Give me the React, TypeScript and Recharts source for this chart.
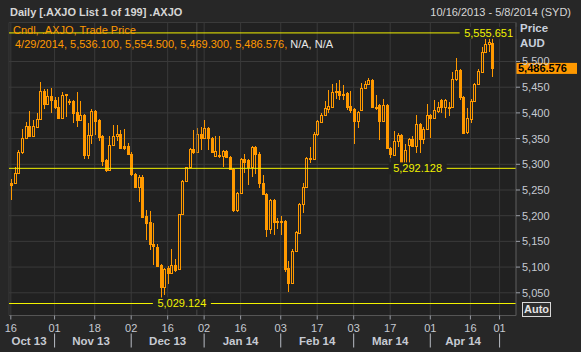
import React from 'react';
import { BarChart, Bar, XAxis, YAxis, CartesianGrid, ReferenceLine } from 'recharts';

// trading days shown on the axis (Oct 2013 - May 2014)
const dates = [
  '10/16', '10/17', '10/18', '10/21', '10/22', '10/23', '10/24', '10/25', '10/28', '10/29', '10/30', '10/31',
  '11/01', '11/04', '11/05', '11/06', '11/07', '11/08', '11/11', '11/12', '11/13', '11/14', '11/15', '11/18',
  '11/19', '11/20', '11/21', '11/22', '11/25', '11/26', '11/27', '11/28', '11/29',
  '12/02', '12/03', '12/04', '12/05', '12/06', '12/09', '12/10', '12/11', '12/12', '12/13', '12/16', '12/17',
  '12/18', '12/19', '12/20', '12/23', '12/24', '12/27', '12/30', '12/31',
  '01/02', '01/03', '01/06', '01/07', '01/08', '01/09', '01/10', '01/13', '01/14', '01/15', '01/16', '01/17',
  '01/20', '01/21', '01/22', '01/23', '01/24', '01/28', '01/29', '01/30', '01/31',
  '02/03', '02/04', '02/05', '02/06', '02/07', '02/10', '02/11', '02/12', '02/13', '02/14', '02/17', '02/18',
  '02/19', '02/20', '02/21', '02/24', '02/25', '02/26', '02/27', '02/28',
  '03/03', '03/04', '03/05', '03/06', '03/07', '03/10', '03/11', '03/12', '03/13', '03/14', '03/17', '03/18',
  '03/19', '03/20', '03/21', '03/24', '03/25', '03/26', '03/27', '03/28', '03/31',
  '04/01', '04/02', '04/03', '04/04', '04/07', '04/08', '04/09', '04/10', '04/11', '04/14', '04/15', '04/16',
  '04/17', '04/22', '04/23', '04/24', '04/28', '04/29', '04/30',
  '05/01', '05/02', '05/05', '05/06', '05/07',
];

const opens = [
  5264, 5263, 5284, 5323, 5352, 5374, 5355, 5373, 5388, 5443,
  5417, 5433, 5426, 5412, 5391, 5436, 5422, 5423, 5402, 5386,
  5396, 5318, 5357, 5404, 5386, 5355, 5308, 5288, 5337, 5355,
  5359, 5335, 5336, 5321, 5281, 5256, 5276, 5200, 5187, 5144,
  5140, 5104, 5062, 5098, 5089, 5104, 5096, 5203, 5267, 5294,
  5330, 5324, 5359, 5351, 5370, 5351, 5316, 5319, 5316, 5326,
  5314, 5291, 5211, 5245, 5310, 5308, 5295, 5333, 5321, 5263,
  5242, 5174, 5230, 5188, 5190, 5190, 5098, 5070, 5131, 5167,
  5223, 5255, 5311, 5310, 5358, 5383, 5396, 5408, 5412, 5441,
  5443, 5436, 5439, 5413, 5407, 5384, 5406, 5448, 5456, 5464,
  5412, 5415, 5385, 5415, 5332, 5318, 5345, 5357, 5295, 5337,
  5349, 5336, 5378, 5349, 5369, 5396, 5391, 5404, 5425, 5412,
  5412, 5412, 5465, 5484, 5430, 5362, 5388, 5424, 5456, 5480,
  5519, 5534, 5536.1,
];
const highs = [
  5271, 5294, 5328, 5369, 5382, 5403, 5386, 5399, 5460, 5446,
  5446, 5448, 5430, 5431, 5440, 5437, 5428, 5425, 5440, 5423,
  5398, 5380, 5408, 5406, 5388, 5357, 5310, 5355, 5377, 5376,
  5366, 5368, 5342, 5323, 5283, 5280, 5280, 5211, 5209, 5185,
  5144, 5106, 5098, 5102, 5135, 5115, 5204, 5270, 5295, 5331,
  5367, 5370, 5372, 5386, 5372, 5353, 5355, 5355, 5328, 5328,
  5316, 5293, 5247, 5312, 5321, 5310, 5335, 5335, 5323, 5279,
  5244, 5232, 5232, 5195, 5200, 5192, 5112, 5135, 5171, 5224,
  5264, 5314, 5334, 5362, 5386, 5399, 5423, 5445, 5456, 5458,
  5464, 5454, 5441, 5443, 5409, 5404, 5458, 5462, 5468, 5466,
  5434, 5417, 5427, 5417, 5334, 5365, 5361, 5359, 5340, 5352,
  5355, 5396, 5380, 5373, 5417, 5398, 5425, 5422, 5427, 5427,
  5422, 5480, 5506, 5486, 5432, 5409, 5427, 5458, 5485, 5528,
  5543, 5555.651, 5554.5,
];
const lows = [
  5230, 5261, 5282, 5321, 5350, 5353, 5353, 5371, 5386, 5408,
  5415, 5399, 5408, 5389, 5389, 5393, 5415, 5381, 5373, 5384,
  5310, 5310, 5340, 5357, 5346, 5297, 5285, 5286, 5335, 5346,
  5330, 5328, 5318, 5278, 5255, 5227, 5196, 5153, 5133, 5104,
  5102, 5036, 5046, 5068, 5086, 5091, 5094, 5201, 5265, 5292,
  5321, 5322, 5328, 5349, 5328, 5322, 5314, 5312, 5294, 5312,
  5288, 5208, 5208, 5243, 5284, 5260, 5276, 5281, 5253, 5240,
  5159, 5164, 5162, 5174, 5162, 5091, 5052, 5068, 5129, 5165,
  5205, 5253, 5303, 5308, 5355, 5381, 5394, 5399, 5410, 5428,
  5426, 5426, 5406, 5399, 5340, 5370, 5404, 5446, 5454, 5410,
  5406, 5347, 5383, 5329, 5312, 5316, 5334, 5292, 5290, 5303,
  5333, 5322, 5322, 5340, 5367, 5352, 5389, 5400, 5399, 5391,
  5394, 5410, 5463, 5425, 5359, 5358, 5380, 5422, 5454, 5478,
  5517, 5519, 5469.3,
];
const closes = [
  5260, 5284, 5323, 5352, 5374, 5355, 5374, 5388, 5443, 5417,
  5433, 5426, 5412, 5391, 5434, 5434, 5423, 5400, 5386, 5396,
  5318, 5357, 5404, 5385, 5354, 5306, 5288, 5338, 5355, 5359,
  5332, 5332, 5321, 5281, 5256, 5276, 5198, 5186, 5144, 5142,
  5103, 5062, 5097, 5089, 5104, 5094, 5203, 5267, 5294, 5330,
  5324, 5359, 5351, 5370, 5351, 5324, 5326, 5318, 5326, 5314,
  5291, 5211, 5245, 5310, 5305, 5295, 5333, 5320, 5263, 5242,
  5174, 5230, 5188, 5190, 5188, 5096, 5070, 5131, 5169, 5223,
  5255, 5312, 5313, 5358, 5384, 5395, 5409, 5413, 5440, 5443,
  5435, 5435, 5412, 5406, 5385, 5402, 5448, 5456, 5464, 5412,
  5410, 5385, 5415, 5331, 5320, 5345, 5357, 5294, 5328, 5349,
  5336, 5378, 5349, 5369, 5395, 5390, 5406, 5411, 5412, 5425,
  5410, 5465, 5484, 5430, 5360, 5390, 5424, 5456, 5482, 5519,
  5534, 5537, 5486.576,
];

const yTicks = [5050, 5100, 5150, 5200, 5250, 5300, 5350, 5400, 5450, 5500];
const dayTicks = ['10/16', '11/01', '11/18', '12/02', '12/16', '01/02', '01/16', '02/03', '02/17', '03/03', '03/17', '04/01', '04/16', '05/01'];
const monthStarts = ['11/01', '12/02', '01/02', '02/03', '03/03', '04/01', '05/01'];
const monthTicks = ['10/23', '11/15', '12/16', '01/16', '02/17', '03/17', '04/14'];
const monthNames = ['Oct 13', 'Nov 13', 'Dec 13', 'Jan 14', 'Feb 14', 'Mar 14', 'Apr 14'];

// horizontal study lines: high, average, low
const highLine = 5555.651;
const midLine = 5292.128;
const lowLine = 5029.124;

const ORANGE = '#ff9900';
const YELLOW = '#f2f200';
const PLOT_BG = '#212121';
const OUTER_BG = '#272727';
const GRID = '#3a3a3a';
const AXIS_TEXT = '#c6cad2';
const FONT = '"Liberation Sans", Arial, sans-serif';

const data = dates.map((d, i) => ({
  date: d,
  o: opens[i],
  h: highs[i],
  l: lows[i],
  c: closes[i],
  range: i < opens.length ? [lows[i], highs[i]] : null,
}));

const fmt = (v: number) => v.toLocaleString('en-US', { minimumFractionDigits: 3, maximumFractionDigits: 3 });

const Candle = (props: any) => {
  const { x, y, width, height, payload } = props;
  if (!payload || payload.o == null) return null;
  const { o, h, l, c } = payload;
  const top = Math.min(y, y + height);
  const span = Math.abs(height);
  const k = span / (h - l || 1);
  const cx = Math.round(x + width / 2);
  const yHi = Math.round(top);
  const yLo = Math.round(top + span);
  const bTop = Math.round(top + (h - Math.max(o, c)) * k);
  const bBot = Math.max(Math.round(top + (h - Math.min(o, c)) * k), bTop + 1);
  if (c >= o) {
    // hollow body: outline only, wick stops at the body
    const d = `M${cx + 0.5},${yHi}V${bTop}M${cx + 0.5},${bBot}V${yLo}` +
      `M${cx - 0.5},${bTop}V${bBot + 1}M${cx + 1.5},${bTop}V${bBot + 1}` +
      `M${cx - 1},${bTop + 0.5}H${cx + 2}M${cx - 1},${bBot + 0.5}H${cx + 2}`;
    return <path d={d} stroke={ORANGE} strokeWidth={1} fill="none" shapeRendering="crispEdges" />;
  }
  return (
    <g shapeRendering="crispEdges">
      <line x1={cx + 0.5} x2={cx + 0.5} y1={yHi} y2={yLo} stroke={ORANGE} />
      <rect x={cx - 1} y={bTop} width={3} height={bBot - bTop + 1} fill={ORANGE} />
    </g>
  );
};

const DayTick = (props: any) => {
  const { x, y, payload } = props;
  const v: string = payload.value;
  return (
    <g>
      <text x={x} y={y + 12} textAnchor="middle" fill={AXIS_TEXT} fontSize={11} fontFamily={FONT}>
        {v.slice(3)}
      </text>
      {monthStarts.includes(v) && <line x1={x} x2={x} y1={y + 14} y2={y + 28} stroke="#b8bcc4" />}
    </g>
  );
};

const MonthTick = (props: any) => {
  const { x, y, payload } = props;
  const idx = monthTicks.indexOf(payload.value);
  return (
    <text x={x} y={y + 15.5} textAnchor="middle" fill={AXIS_TEXT} fontSize={11.5} fontWeight="bold" fontFamily={FONT}>
      {monthNames[idx]}
    </text>
  );
};

// value label sitting in a gap of a horizontal line
const lineLabel = (value: number, frac: number) => (props: any) => {
  const vb = props.viewBox;
  const cx = vb.x + vb.width * frac;
  return (
    <g>
      <rect x={cx - 29} y={vb.y - 6} width={58} height={12} fill={PLOT_BG} />
      <text x={cx} y={vb.y} dy="0.36em" textAnchor="middle" fill={YELLOW} fontSize={11} fontFamily={FONT}>
        {fmt(value)}
      </text>
    </g>
  );
};

const BadgeLabel = (props: any) => {
  const vb = props.viewBox;
  const x = vb.x + vb.width;
  return (
    <g>
      <rect x={x} y={vb.y - 5.5} width={61} height={11} fill={ORANGE} />
      <text x={x + 2} y={vb.y} dy="0.36em" fill="#000" fontSize={11} fontWeight="bold" fontFamily={FONT}>
        {fmt(closes[closes.length - 1])}
      </text>
    </g>
  );
};

export default function App() {
  return (
    <div style={{ position: 'absolute', left: 0, top: 0, width: 581, height: 352, background: OUTER_BG, overflow: 'hidden', fontFamily: FONT }}>
      <BarChart width={581} height={352} data={data} margin={{ top: 22.5, right: 0, bottom: 0, left: 9 }} barCategoryGap={0}>
        <CartesianGrid fill={PLOT_BG} stroke={GRID} />
        <XAxis
          dataKey="date"
          ticks={dayTicks}
          interval={0}
          height={14}
          tickSize={4}
          tickMargin={0}
          tick={<DayTick />}
          tickLine={{ stroke: '#9a9ea6' }}
          axisLine={{ stroke: '#555' }}
        />
        <XAxis
          xAxisId="m"
          dataKey="date"
          ticks={monthTicks}
          interval={0}
          height={22.5}
          tickSize={0}
          tickMargin={0}
          tick={<MonthTick />}
          tickLine={false}
          axisLine={false}
        />
        <XAxis xAxisId="t" dataKey="date" orientation="top" height={0} tick={false} tickLine={false} axisLine={{ stroke: '#555' }} />
        <YAxis yAxisId="l" orientation="left" width={0} tick={false} tickLine={false} axisLine={{ stroke: '#666' }} />
        <YAxis
          orientation="right"
          width={65}
          domain={[5005.8, 5575.9]}
          ticks={yTicks}
          allowDataOverflow
          tickSize={4}
          tickMargin={2}
          tickLine={{ stroke: '#9a9ea6' }}
          axisLine={{ stroke: '#555' }}
          tick={{ fill: AXIS_TEXT, fontSize: 11, fontFamily: FONT }}
          tickFormatter={(v: number) => v.toLocaleString('en-US')}
        />
        <ReferenceLine x="12/30" stroke="#4a4a4a" />
        <ReferenceLine y={highLine} stroke={YELLOW} label={lineLabel(highLine, 0.946)} />
        <ReferenceLine y={midLine} stroke={YELLOW} label={lineLabel(midLine, 0.806)} />
        <ReferenceLine y={lowLine} stroke={YELLOW} label={lineLabel(lowLine, 0.341)} />
        <Bar dataKey="range" shape={<Candle />} isAnimationActive={false} />
        <ReferenceLine y={closes[closes.length - 1]} stroke="none" label={BadgeLabel} />
      </BarChart>

      <div style={{ position: 'absolute', left: 10, top: 5, fontSize: 11, fontWeight: 'bold', color: '#d6d6d6', lineHeight: '14px' }}>
        Daily [.AXJO List 1 of 199] .AXJO
      </div>
      <div style={{ position: 'absolute', right: 10, top: 5, fontSize: 11, color: '#d6d6d6', lineHeight: '14px' }}>
        10/16/2013 - 5/8/2014 (SYD)
      </div>
      <div style={{ position: 'absolute', left: 13, top: 23, fontSize: 11, color: ORANGE, lineHeight: '14px' }}>
        Cndl, .AXJO, Trade Price
      </div>
      <div style={{ position: 'absolute', left: 15, top: 37, fontSize: 11, color: ORANGE, lineHeight: '14px', whiteSpace: 'nowrap' }}>
        4/29/2014, 5,536.100, 5,554.500, 5,469.300, 5,486.576, <span style={{ color: '#e8e8e8' }}>N/A, N/A</span>
      </div>
      <div style={{ position: 'absolute', left: 520, top: 21, fontSize: 11.5, fontWeight: 'bold', color: '#c8d0dc', lineHeight: '14px' }}>Price</div>
      <div style={{ position: 'absolute', left: 520, top: 36, fontSize: 11.5, fontWeight: 'bold', color: '#c8d0dc', lineHeight: '14px' }}>AUD</div>
      <div
        style={{
          position: 'absolute', left: 522, top: 302, width: 27, height: 13, border: '1px solid #d8d8d8',
          fontSize: 11, fontWeight: 'bold', color: '#e4e4e4', lineHeight: '13px', textAlign: 'center', background: '#2e2e2e',
        }}
      >
        Auto
      </div>
    </div>
  );
}
